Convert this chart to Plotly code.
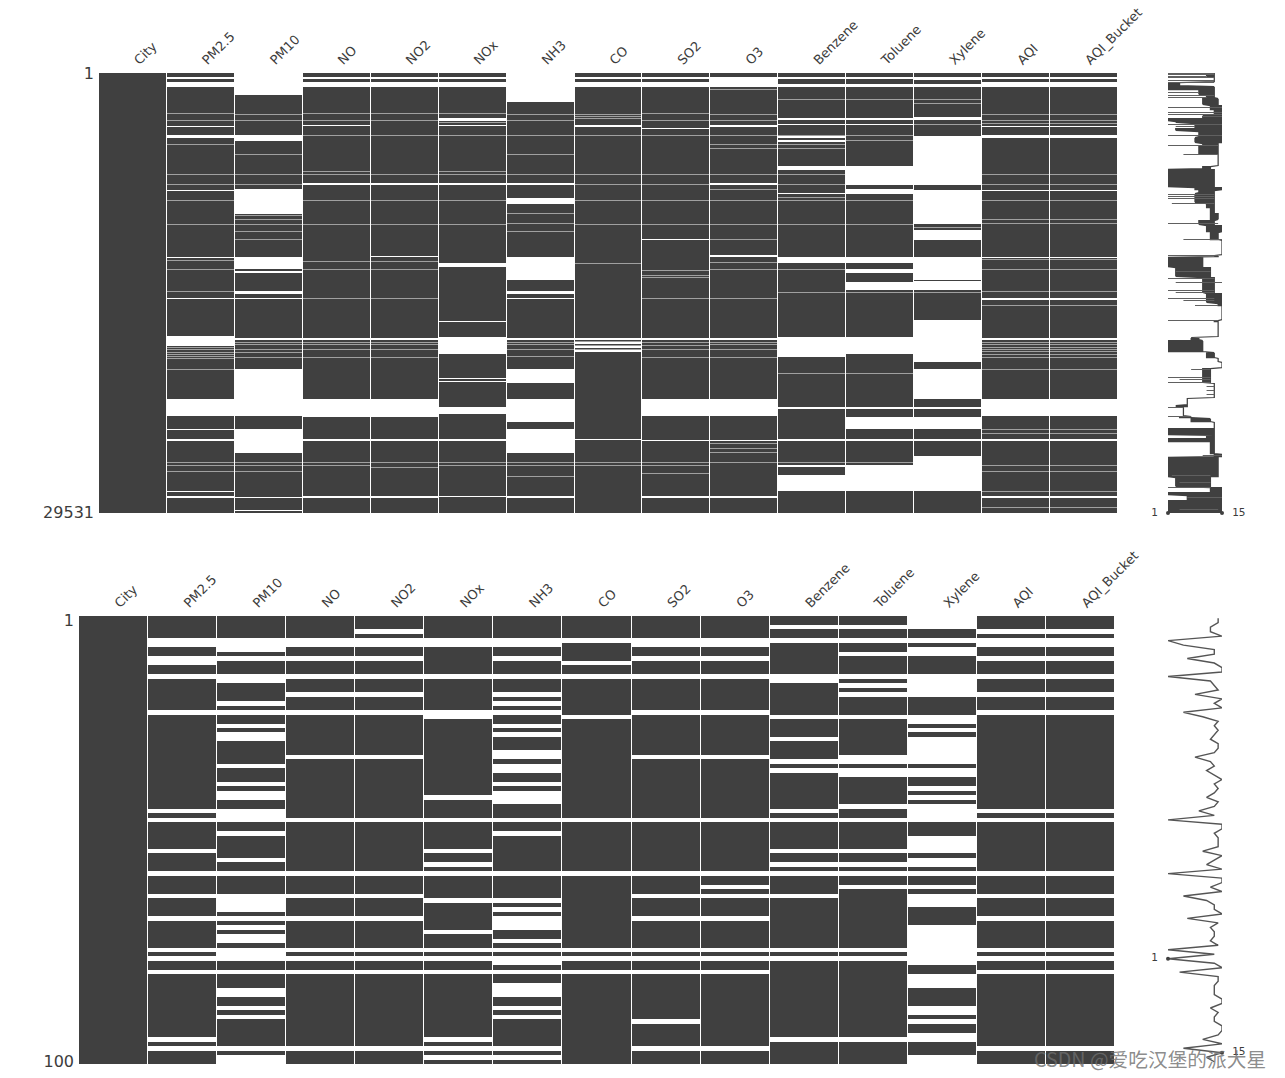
import numpy as np
import plotly.graph_objects as go

COLUMNS = ["City", "PM2.5", "PM10", "NO", "NO2", "NOx", "NH3", "CO", "SO2", "O3",
           "Benzene", "Toluene", "Xylene", "AQI", "AQI_Bucket"]
TOTAL_ROWS = 29531
TOP_BINS = 440
SAMPLE_ROWS = 100

# ---- full table, rows binned into 440 groups: wholly missing stretches / thin partly missing lines
CITY_BANDS, CITY_LINES = [], []
PM25_BANDS = [(4,6),(9,14),(53,54),(62,65),(117,118),(184,185),(225,226),(263,273),(326,343),(356,357),(366,368),(418,419),(423,425)]
PM25_LINES = [40,47,71,101,111,127,151,187,196,218,274,276,279,281,283,285,296,389,392,398]
PM10_BANDS = [(0,22),(62,68),(116,141),(184,196),(198,200),(218,221),(225,226),(265,267),(296,343),(356,380),(424,425),(437,438)]
PM10_LINES = [41,47,81,101,111,142,146,151,158,166,269,271,276,279,284,389,392,398]
NO_BANDS = [(4,6),(9,14),(52,53),(110,112),(265,267),(326,344),(366,368),(423,425)]
NO_LINES = [40,47,62,98,101,127,151,188,196,225,269,271,276,284,389,392]
NO2_BANDS = [(4,6),(9,14),(110,112),(183,184),(265,267),(326,344),(366,368),(423,425)]
NO2_LINES = [40,47,62,101,127,151,188,196,225,269,271,276,284,389,394]
NOX_BANDS = [(4,6),(9,14),(45,48),(52,53),(110,112),(190,194),(248,249),(264,281),(305,306),(308,309),(334,341),(366,368),(423,424)]
NOX_LINES = [40,49,62,98,101,127,151,389,392]
NH3_BANDS = [(0,29),(110,112),(125,131),(184,207),(218,221),(225,226),(265,267),(296,310),(326,349),(356,380),(423,425)]
NH3_LINES = [41,47,62,81,101,140,150,158,269,271,276,283,389,392,403]
CO_BANDS = [(4,6),(9,14),(52,54),(265,267),(269,271),(273,275),(277,279),(366,367)]
CO_LINES = [41,43,45,62,101,111,127,151,190,268,272,276,389,392]
SO2_BANDS = [(4,6),(9,14),(55,56),(166,167),(265,267),(326,343),(367,368),(423,425)]
SO2_LINES = [40,47,62,101,111,127,151,197,202,204,225,269,272,276,284,389,392,400]
O3_BANDS = [(4,14),(52,54),(110,112),(182,184),(265,267),(326,343),(367,368),(423,425)]
O3_LINES = [16,41,47,62,71,75,101,116,127,151,166,189,196,225,269,271,276,284,370,375,379,389]
BENZENE_BANDS = [(4,6),(11,14),(45,47),(51,52),(63,65),(67,69),(93,97),(120,121),(184,190),(264,284),(334,336),(366,368),(392,394),(402,418)]
BENZENE_LINES = [26,62,71,75,101,111,124,127,151,196,219,300,389,392]
TOLUENE_BANDS = [(4,6),(11,14),(45,47),(51,52),(93,112),(116,121),(184,190),(196,200),(209,217),(264,281),(334,336),(344,356),(366,368),(392,418)]
TOLUENE_LINES = [26,62,67,127,151,219,300,389]
XYLENE_BANDS = [(4,7),(11,14),(44,47),(63,112),(117,151),(157,167),(184,207),(208,217),(247,289),(296,326),(334,336),(344,356),(366,368),(383,418)]
XYLENE_LINES = [26,30,51,154,157,219]
AQI_BANDS = [(4,6),(9,14),(53,54),(62,65),(117,118),(184,185),(225,227),(265,267),(326,343),(366,368),(423,425)]
AQI_LINES = [41,47,50,101,111,127,146,150,186,196,218,232,269,271,274,276,278,281,284,296,356,360,392,398,418,434]
BUCKET_BANDS = AQI_BANDS
BUCKET_LINES = AQI_LINES

TOP_BANDS = [CITY_BANDS, PM25_BANDS, PM10_BANDS, NO_BANDS, NO2_BANDS, NOX_BANDS, NH3_BANDS, CO_BANDS,
             SO2_BANDS, O3_BANDS, BENZENE_BANDS, TOLUENE_BANDS, XYLENE_BANDS, AQI_BANDS, BUCKET_BANDS]
TOP_LINES = [CITY_LINES, PM25_LINES, PM10_LINES, NO_LINES, NO2_LINES, NOX_LINES, NH3_LINES, CO_LINES,
             SO2_LINES, O3_LINES, BENZENE_LINES, TOLUENE_LINES, XYLENE_LINES, AQI_LINES, BUCKET_LINES]

# ---- completeness of the full table: dense runs (first bin, last bin, lowest, highest non-null count)
SPARK_TOP = [(0,4,11,13),(4,9,13,13),(9,13,1,4),(13,17,1,13),(17,22,9,13),(22,25,11,13),(25,32,10,14),(32,37,12,15),
             (37,42,13,15),(42,45,10,15),(45,48,1,15),(48,50,3,15),(50,55,8,15),(55,58,3,15),(58,64,9,15),
             (64,70,8,15),(70,73,10,14),(73,81,9,14),(81,93,14,14),(93,96,10,12),(96,114,1,13),(114,117,8,15),
             (117,120,9,13),(120,130,8,13),(130,135,11,13),(135,140,12,13),(140,147,12,14),(147,152,9,13),
             (152,159,11,15),(159,162,12,14),(162,167,12,14),(167,182,15,15),(182,184,13,14),(184,194,1,10),
             (194,204,3,12),(204,214,10,13),(214,220,10,13),(220,230,11,15),(230,233,14,15),(233,247,15,15),
             (247,249,13,14),(249,264,14,14),(264,267,7,9),(267,279,1,10),(279,285,11,13),(285,289,14,14),
             (289,295,15,15),(295,299,10,12),(299,310,10,12),(310,325,13,13),(325,332,6,6),(332,334,3,6),
             (334,343,5,5),(343,345,4,7),(345,349,7,12),(349,355,13,13),(355,362,1,13),(362,365,11,13),
             (365,369,1,13),(369,381,12,13),(381,384,13,15),(384,404,1,14),(404,414,3,12),(414,419,12,15),
             (419,422,1,15),(422,427,6,15),(427,440,1,15)]
# ---- completeness of the full table: lone thin rows (bin, lowest, highest)
SPARK_TOP_SPIKES = [(0,1,13),(1,1,13),(3,1,11),(4,1,13),(7,1,13),(9,1,13),(19,1,9),(22,1,13),(24,1,11),(34,1,15),
                    (39,1,15),(41,1,15),(43,10,15),(51,1,15),(53,3,8),(62,1,15),(72,1,14),(81,5,14),(121,1,13),
                    (123,1,13),(125,1,13),(130,2,13),(150,1,14),(166,5,15),(182,1,14),(198,3,12),(205,1,13),
                    (209,3,15),(217,1,13),(219,3,13),(225,1,13),(227,5,13),(232,8,14),(247,1,14),(296,7,12),
                    (304,1,12),(306,4,12),(309,1,12),(313,11,13),(317,11,13),(321,11,13),(334,1,5),(343,1,7),
                    (382,10,15),(402,2,12),(409,4,12),(414,1,12),(424,6,15),(436,4,14)]

# ---- first 100 rows: indices of the missing rows in each column
CITY_MISSING = []
PM25_MISSING = [5,6,9,10,13,21,43,45,52,57,62,67,74,76,79,94,96]
PM10_MISSING = [5,6,7,9,13,14,19,21,24,26,27,33,37,39,40,43,44,45,48,54,57,62,63,64,65,67,69,71,72,74,75,76,79,83,84,87,89,96,98,99]
NO_MISSING = [5,6,9,13,17,21,31,45,57,62,67,74,76,79,96]
NO2_MISSING = [3,5,6,9,13,17,21,31,45,57,62,67,74,76,79,96]
NOX_MISSING = [5,6,13,21,22,40,45,52,55,57,63,70,74,76,79,94,96,98]
NH3_MISSING = [5,6,9,13,17,19,21,24,26,30,31,33,34,37,39,40,41,45,48,57,63,65,67,68,69,72,74,76,77,79,82,83,84,87,89,96,98]
CO_MISSING = [5,10,13,22,45,57,74,76,79]
SO2_MISSING = [5,6,9,13,21,31,45,57,62,67,74,76,79,90,96]
O3_MISSING = [5,6,9,13,21,31,45,57,60,62,67,74,76,79,96]
BENZENE_MISSING = [2,5,13,14,22,27,32,34,43,45,52,55,57,62,74,76,94]
TOLUENE_MISSING = [2,5,8,13,15,17,22,31,32,34,35,42,45,52,55,57,60,74,76,94]
XYLENE_MISSING = [0,1,2,5,7,8,13,14,15,16,17,22,23,25,27,28,29,30,31,32,34,35,38,40,42,43,44,45,49,50,51,52,54,55,57,
                  60,62,63,64,69,70,71,72,73,74,75,76,77,80,81,82,87,88,90,93,94,98,99]
AQI_MISSING = [3,5,6,9,13,17,21,43,45,57,62,67,74,76,79,96]
BUCKET_MISSING = AQI_MISSING
SAMPLE_MISSING = [CITY_MISSING, PM25_MISSING, PM10_MISSING, NO_MISSING, NO2_MISSING, NOX_MISSING, NH3_MISSING, CO_MISSING,
                  SO2_MISSING, O3_MISSING, BENZENE_MISSING, TOLUENE_MISSING, XYLENE_MISSING, AQI_MISSING, BUCKET_MISSING]

W, H = 1285, 1078
DARK = "#404040"
LABEL = "#3c3c3c"
PARTIAL = 0.5


def xdom(a, b):
    return [a / W, b / W]


def ydom(a, b):
    return [1 - b / H, 1 - a / H]


z_top = np.zeros((TOP_BINS, len(COLUMNS)))
for j in range(len(COLUMNS)):
    for b in TOP_LINES[j]:
        z_top[b, j] = PARTIAL
    for a, b in TOP_BANDS[j]:
        z_top[a:b, j] = 1
z_low = np.zeros((SAMPLE_ROWS, len(COLUMNS)))
for j, rows in enumerate(SAMPLE_MISSING):
    z_low[rows, j] = 1

row_per_bin = TOTAL_ROWS / TOP_BINS
y_top = (np.arange(TOP_BINS) + 0.5) * row_per_bin
y_low = np.arange(SAMPLE_ROWS) + 1

fig = go.Figure()
scale = [[0, DARK], [1, "#ffffff"]]
fig.add_trace(go.Heatmap(z=z_top, x=COLUMNS, y=y_top, xgap=1, colorscale=scale, zmin=0, zmax=1,
                         showscale=False, hoverinfo="skip", xaxis="x", yaxis="y"))
fig.add_trace(go.Heatmap(z=z_low, x=COLUMNS, y=y_low, xgap=1, colorscale=scale, zmin=0, zmax=1,
                         showscale=False, hoverinfo="skip", xaxis="x2", yaxis="y2"))

# sparkline, full table: dense runs
sx, sy, flip = [], [], False
for a, b, lo, hi in SPARK_TOP:
    for k in range(a, b):
        pair = [hi, lo] if flip else [lo, hi]
        sx += pair
        sy += [(k + 0.5) * row_per_bin] * 2
        flip = not flip
fig.add_trace(go.Scatter(x=sx, y=sy, mode="lines", line=dict(color=DARK, width=1.25), hoverinfo="skip", xaxis="x3", yaxis="y3"))
# sparkline, full table: lone rows
tx, ty = [], []
for k, lo, hi in SPARK_TOP_SPIKES:
    tx += [lo, hi, None]
    ty += [(k + 0.5) * row_per_bin, (k + 0.5) * row_per_bin, None]
fig.add_trace(go.Scatter(x=tx, y=ty, mode="lines", line=dict(color="#606060", width=1), hoverinfo="skip", xaxis="x3", yaxis="y3"))
fig.add_trace(go.Scatter(x=[1, 15], y=[TOTAL_ROWS, TOTAL_ROWS], mode="markers+text", text=["1  ", "  15"],
                         textposition=["middle left", "middle right"], textfont=dict(family="DejaVu Sans", size=10.5, color=LABEL),
                         marker=dict(size=4, color=DARK), hoverinfo="skip", cliponaxis=False, xaxis="x3", yaxis="y3"))

# sparkline, first 100 rows
completeness = len(COLUMNS) - (z_low > 0).sum(axis=1)
fig.add_trace(go.Scatter(x=completeness, y=y_low - 0.5, mode="lines", line=dict(color="#555555", width=1.4), hoverinfo="skip",
                         xaxis="x4", yaxis="y4"))
lo_row = 76
hi_row = 97
fig.add_trace(go.Scatter(x=[completeness[lo_row], completeness[hi_row]], y=[lo_row + 0.5, hi_row + 0.5], mode="markers+text",
                         text=["1  ", "  15"], textposition=["middle left", "middle right"],
                         textfont=dict(family="DejaVu Sans", size=10.5, color=LABEL),
                         marker=dict(size=4, color=DARK), hoverinfo="skip", cliponaxis=False, xaxis="x4", yaxis="y4"))

axis_x = dict(side="top", tickangle=-45, showgrid=False, zeroline=False, ticks="", showline=False, tickmode="array", automargin=False,
              tickvals=COLUMNS, ticktext=COLUMNS, tickfont=dict(family="DejaVu Sans", size=13, color=LABEL), fixedrange=True,
              ticklabelstandoff=2, ticklabelshift=2)
axis_y = dict(showgrid=False, zeroline=False, ticks="", showline=False, tickfont=dict(family="DejaVu Sans", size=16, color=LABEL),
              fixedrange=True, tickmode="array", automargin=False, ticklabelstandoff=4)
hidden = dict(visible=False, fixedrange=True, automargin=False)

fig.update_layout(
    width=W, height=H, margin=dict(l=0, r=0, t=0, b=0), paper_bgcolor="white", plot_bgcolor="white", showlegend=False,
    xaxis=dict(axis_x, domain=xdom(99, 1118), anchor="y"),
    yaxis=dict(axis_y, domain=ydom(73, 513), range=[TOTAL_ROWS, 0], tickvals=[60, TOTAL_ROWS - 60], ticktext=["1", "29531"], anchor="x"),
    xaxis2=dict(axis_x, domain=xdom(79, 1115), anchor="y2"),
    yaxis2=dict(axis_y, domain=ydom(616, 1064), range=[SAMPLE_ROWS + 0.5, 0.5], tickvals=[1.4, 100], ticktext=["1", "100"], anchor="x2"),
    xaxis3=dict(hidden, domain=xdom(1168, 1222), range=[1, 15], anchor="y3"),
    yaxis3=dict(hidden, domain=ydom(73, 513), range=[TOTAL_ROWS, 0], anchor="x3"),
    xaxis4=dict(hidden, domain=xdom(1168, 1222), range=[1, 15], anchor="y4"),
    yaxis4=dict(hidden, domain=ydom(616, 1064), range=[SAMPLE_ROWS, 0], anchor="x4"),
    annotations=[dict(text="CSDN @爱吃汉堡的派大星", xref="paper", yref="paper", x=1268 / W, y=1 - 1058 / H,
                      xanchor="right", yanchor="middle", showarrow=False,
                      font=dict(family="Noto Sans CJK SC", size=19.7, color="rgba(110,110,110,0.8)"))],
)

fig.write_html("out.html", config={"displayModeBar": False},
               post_script="document.body.style.margin='0';document.body.style.overflow='hidden';")
